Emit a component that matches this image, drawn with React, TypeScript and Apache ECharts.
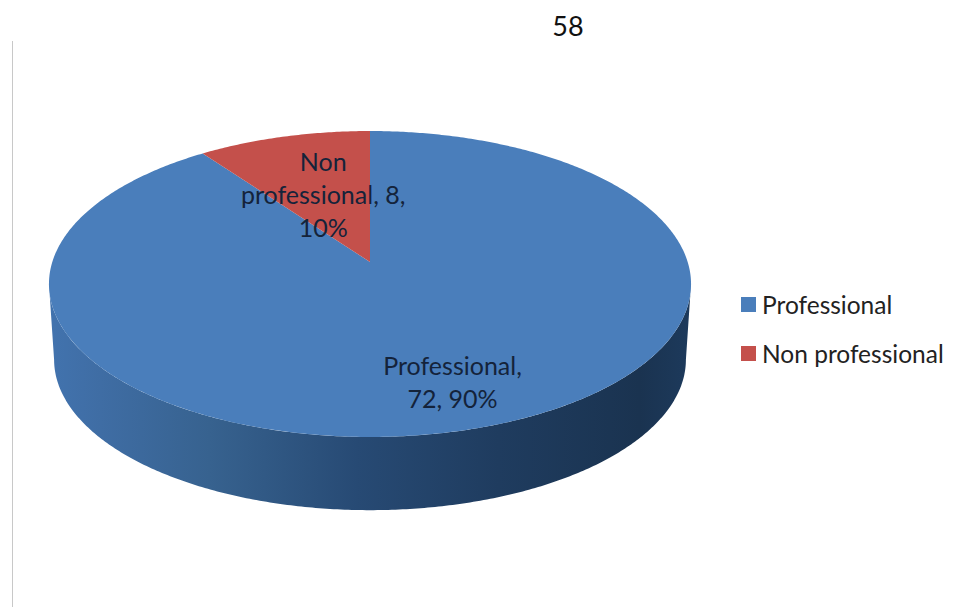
import React, { useEffect, useRef } from "react";
import * as echarts from "echarts";

// Share of respondents by type
const categories = ["Professional", "Non professional"];
const counts = [72, 8];
const sliceColors = ["#4a7ebb", "#c4504b"];
const labelRadii = [0.754, 0.51];
const pageNumber = "58";

const total = counts.reduce((a, b) => a + b, 0);

// Tilted disc: maps a point of the unit circle onto the page with a slight perspective
const disc = { cx: 370, apexY: 262, a: 317.7, b: 149.8, k: -0.1438 };
const base = { scale: 0.984, drop: 76 };

function project(theta: number, r = 1, scale = 1, drop = 0): number[] {
  const u = r * Math.sin(theta);
  const v = -r * Math.cos(theta);
  const d = 1 + disc.k * v;
  return [disc.cx + (scale * disc.a * u) / d, disc.apexY + drop + (scale * disc.b * v) / d];
}

function arcPoints(from: number, to: number, scale = 1, drop = 0): number[][] {
  const steps = Math.max(2, Math.ceil(Math.abs(to - from) / 0.01));
  const pts: number[][] = [];
  for (let i = 0; i <= steps; i++) {
    pts.push(project(from + ((to - from) * i) / steps, 1, scale, drop));
  }
  return pts;
}

function sliceLabel(index: number): string {
  const pct = Math.round((counts[index] / total) * 100);
  return index === 0
    ? `${categories[0]},\n${counts[0]}, ${pct}%`
    : `Non\nprofessional, ${counts[1]},\n${pct}%`;
}

function renderSlice(params: any, api: any) {
  const index = params.seriesIndex;
  const value = api.value(0);
  const before = counts.slice(0, index).reduce((a, b) => a + b, 0);
  const start = (before / total) * Math.PI * 2;
  const end = start + (value / total) * Math.PI * 2;
  const children: any[] = [];

  if (index === 0) {
    // The rim is visible only between the two tangent points of the disc
    const tangent = Math.acos(disc.k);
    const top = arcPoints(tangent, Math.PI * 2 - tangent);
    const bottom = arcPoints(Math.PI * 2 - tangent, tangent, base.scale, base.drop);
    children.push({
      type: "polygon",
      shape: { points: top.concat(bottom) },
      style: {
        fill: new echarts.graphic.LinearGradient(0, 0, 1, 0, [
          { offset: 0, color: "#4273ae" },
          { offset: 0.08, color: "#3f6da4" },
          { offset: 0.25, color: "#37628f" },
          { offset: 0.48, color: "#274a74" },
          { offset: 0.7, color: "#1f3c5f" },
          { offset: 0.92, color: "#1a3350" },
          { offset: 1, color: "#1d3a5c" },
        ]),
      },
    });
  }

  children.push({
    type: "polygon",
    shape: { points: [project(0, 0)].concat(arcPoints(start, end)) },
    style: { fill: api.visual("color") },
  });

  const mid = (start + end) / 2;
  const [lx, ly] = project(mid, labelRadii[index]);
  children.push({
    type: "text",
    x: lx,
    y: ly,
    style: {
      text: sliceLabel(index),
      fill: "#14233a",
      font: '400 25px Lato, "Open Sans", sans-serif',
      lineHeight: 33,
      align: "center",
      verticalAlign: "middle",
    },
  });

  return { type: "group", children };
}

export default function App() {
  const ref = useRef<HTMLDivElement>(null);

  useEffect(() => {
    const chart = echarts.init(ref.current!, null, { renderer: "svg" });
    chart.setOption({
      animation: false,
      backgroundColor: "#ffffff",
      legend: {
        data: categories,
        orient: "vertical",
        left: 741,
        top: 292,
        padding: 0,
        itemWidth: 15,
        itemHeight: 15,
        itemGap: 24,
        icon: "rect",
        selectedMode: false,
        textStyle: {
          fontFamily: 'Lato, "Open Sans", sans-serif',
          fontSize: 24.5,
          color: "#222222",
          padding: [0, 0, 0, 1],
        },
      },
      graphic: [
        {
          type: "text",
          x: 568,
          y: 25.5,
          style: {
            text: pageNumber,
            fill: "#111111",
            font: '400 27px Lato, "Open Sans", sans-serif',
            align: "center",
            verticalAlign: "middle",
          },
        },
        {
          type: "line",
          shape: { x1: 12.5, y1: 41, x2: 12.5, y2: 607 },
          style: { stroke: "#c8c8c8", lineWidth: 1 },
        },
      ],
      series: categories.map((name, i) => ({
        type: "custom",
        name,
        coordinateSystem: "none",
        silent: true,
        itemStyle: { color: sliceColors[i] },
        renderItem: renderSlice,
        data: [[counts[i]]],
      })),
    });
    return () => chart.dispose();
  }, []);

  return (
    <div
      ref={ref}
      style={{ position: "absolute", left: 0, top: 0, width: 965, height: 607 }}
    />
  );
}
